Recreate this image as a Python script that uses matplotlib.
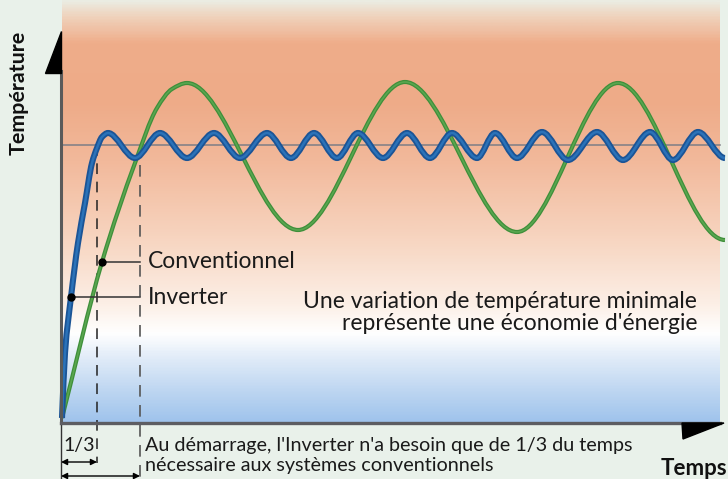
import numpy as np
import matplotlib
matplotlib.use("Agg")
import matplotlib.pyplot as plt
from matplotlib.path import Path
from matplotlib.patches import PathPatch, Polygon
from matplotlib.colors import LinearSegmentedColormap

# ---------------- data (time units, temperature units) ----------------
inverter_time = [0, 3, 9, 16, 23, 30, 35, 40, 46, 73, 98, 125, 152, 178, 205, 229,
                 252, 275, 296, 321, 345, 368, 390, 415, 433, 455, 480, 506, 535,
                 561, 588, 611, 636, 663]
inverter_temp = [5, 70, 126, 180, 220, 260, 275, 286, 290, 265, 290, 265, 290, 265,
                 290, 265, 290, 265, 290, 265, 290, 265, 290, 265, 290, 265, 291,
                 263, 291, 263, 291, 263, 291, 265]
conv_time = [0, 40, 73, 95, 110, 125, 236, 343, 455, 556, 663]
conv_temp = [5, 161, 260, 315, 334, 340, 193, 341, 191, 340, 183]
setpoint = 278
t_inverter = 35          # time for inverter to reach setpoint
t_conv = 78              # time for conventional system
inv_marker = (9, 126)
conv_marker = (40, 161)
labels_curves = ["Conventionnel", "Inverter"]
axis_labels = ["Température", "Temps"]
note_main = ["Une variation de température minimale",
             "représente une économie d'énergie"]
note_start = ["Au démarrage, l'Inverter n'a besoin que de 1/3 du temps",
              "nécessaire aux systèmes conventionnels"]
ratio_label = "1/3"

FONT = ["Lato", "DejaVu Sans"]
plt.rcParams["font.family"] = FONT


def smooth_path(x, y):
    x = np.asarray(x, float)
    y = np.asarray(y, float)
    h = np.diff(x)
    d = np.diff(y) / h
    m = np.zeros_like(x)
    for i in range(1, len(x) - 1):
        if d[i - 1] * d[i] <= 0:
            m[i] = 0.0
        else:
            w1 = 2 * h[i] + h[i - 1]
            w2 = h[i] + 2 * h[i - 1]
            m[i] = (w1 + w2) / (w1 / d[i - 1] + w2 / d[i])
    m[0] = d[0]
    m[-1] = 0.0
    verts = [(x[0], y[0])]
    codes = [Path.MOVETO]
    for i in range(len(x) - 1):
        verts += [(x[i] + h[i] / 3, y[i] + m[i] * h[i] / 3),
                  (x[i + 1] - h[i] / 3, y[i + 1] - m[i + 1] * h[i] / 3),
                  (x[i + 1], y[i + 1])]
        codes += [Path.CURVE4] * 3
    return Path(verts, codes)


W, H = 728, 479
fig = plt.figure(figsize=(W / 100, H / 100), dpi=100)
fig.patch.set_facecolor("#e9f1ea")
ax = fig.add_axes([62 / W, (H - 423) / H, (W - 62) / W, 423 / H])
ax.axis("off")

# background gradient
grad = LinearSegmentedColormap.from_list("bg", [
    (0.0, "#9fc3ec"), (0.07, "#bcd5f1"), (0.15, "#e0ebf8"), (0.21, "#ffffff"),
    (0.28, "#fcefe6"), (0.44, "#f7d4bf"), (0.62, "#f2b99b"), (0.76, "#eeab88"),
    (0.90, "#efad8a"), (0.965, "#efd3bd"), (1.0, "#ebece2")])
gimg = np.linspace(0, 1, 400).reshape(-1, 1)
ax.imshow(gimg, cmap=grad, origin="lower", aspect="auto",
          extent=(0, 658, 0, 423), zorder=0)
ax.set_xlim(0, 666)
ax.set_ylim(0, 423)

# setpoint line
ax.plot([0, 658], [setpoint, setpoint], color="#7d7d86", lw=1.1, zorder=2)

# dashed guides
ax.plot([t_inverter, t_inverter], [setpoint, -40], color="#222222", lw=1.1,
        dashes=(7, 5), zorder=3, clip_on=False)
ax.plot([t_conv, t_conv], [setpoint, -58], color="#555555", lw=1.2,
        dashes=(7, 5), zorder=3, clip_on=False)

# curves
conv_path = smooth_path(conv_time, conv_temp)
ax.add_patch(PathPatch(conv_path, fill=False, edgecolor="#3e8f3a", lw=3.0,
                       capstyle="butt", zorder=4, clip_on=False))
ax.add_patch(PathPatch(conv_path, fill=False, edgecolor="#5aa64f", lw=1.2,
                       capstyle="butt", zorder=4, clip_on=False))
inv_path = smooth_path(inverter_time, inverter_temp)
ax.add_patch(PathPatch(inv_path, fill=False, edgecolor="#1b5496", lw=4.4,
                       capstyle="butt", zorder=5, clip_on=False))
ax.add_patch(PathPatch(inv_path, fill=False, edgecolor="#2b72b8", lw=1.8,
                       capstyle="butt", zorder=5, clip_on=False))

# markers and leader lines
for (mx, my), lab in zip([conv_marker, inv_marker], labels_curves):
    ax.plot([mx, t_conv], [my, my], color="#333333", lw=1.1, zorder=6)
    ax.plot([mx], [my], "o", color="black", ms=5, zorder=7)
    ax.text(t_conv + 8, my, lab, fontsize=16.5, va="center", ha="left",
            color="#1a1a1a", zorder=7)

for k, line in enumerate(note_main):
    ax.text(635, 115 - 22 * k, line, fontsize=16.5, ha="right", va="baseline",
            color="#1a1a1a", zorder=7)

# axes lines and arrows
ax.plot([-1, -1], [0, 352], color="#5a5a5a", lw=2.2, zorder=6, clip_on=False)
ax.plot([-1, -1], [0, -58], color="#333333", lw=1.0, zorder=6, clip_on=False)
ax.add_patch(Polygon([(-1, 392), (-1, 350), (-17, 350)], closed=True,
                     color="black", zorder=7, clip_on=False))
ax.plot([-1, 658], [0, 0], color="#5d5d62", lw=2.4, zorder=6, clip_on=False)
ax.add_patch(Polygon([(620, 0), (662, 0), (621, -16)], closed=True,
                     color="black", zorder=7, clip_on=False))

# start-up arrows
ax.annotate("", xy=(t_inverter, -39), xytext=(-1, -39),
            arrowprops=dict(arrowstyle="<|-|>", lw=1.0, color="black",
                            mutation_scale=9, shrinkA=0, shrinkB=0),
            annotation_clip=False)
ax.annotate("", xy=(t_conv, -53), xytext=(-1, -53),
            arrowprops=dict(arrowstyle="<|-|>", lw=1.0, color="black",
                            mutation_scale=9, shrinkA=0, shrinkB=0),
            annotation_clip=False)
ax.text(1, -28, ratio_label, fontsize=14, ha="left", va="baseline",
        color="#1a1a1a", clip_on=False)
for k, line in enumerate(note_start):
    ax.text(t_conv + 5, -28 - 19.5 * k, line, fontsize=14.2, ha="left",
            va="baseline", color="#1a1a1a", clip_on=False)

# axis labels
ax.text(-43, 330, axis_labels[0], fontsize=15.4, fontweight="bold",
        rotation=90, ha="center", va="center", color="#111111", clip_on=False)
ax.text(665, -52, axis_labels[1], fontsize=16, fontweight="bold",
        ha="right", va="baseline", color="#111111", clip_on=False)

fig.savefig("out.png", dpi=100, facecolor=fig.get_facecolor())
